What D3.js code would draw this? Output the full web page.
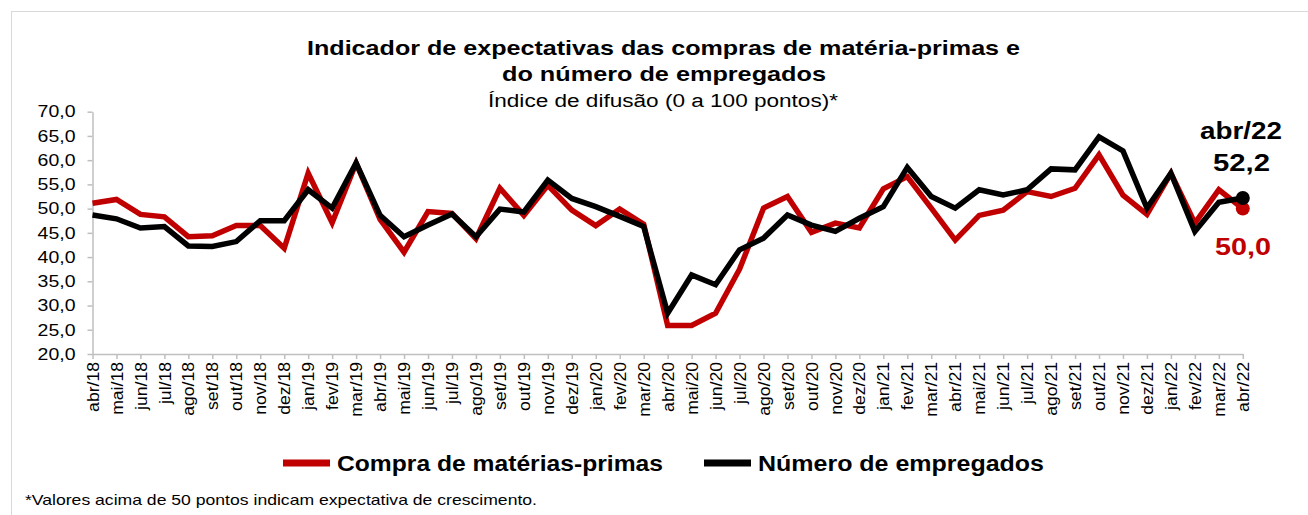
<!DOCTYPE html>
<html>
<head>
<meta charset="utf-8">
<script src="https://cdn.jsdelivr.net/npm/d3@7"></script>
<style>
  body { margin: 0; background: #fff; }
  svg { display: block; font-family: Arial, 'Liberation Sans', sans-serif; }
</style>
</head>
<body>
<svg id="chart" width="1308" height="515"></svg>
<script>
const months = [
  'abr/18','mai/18','jun/18','jul/18','ago/18','set/18','out/18','nov/18','dez/18',
  'jan/19','fev/19','mar/19','abr/19','mai/19','jun/19','jul/19','ago/19','set/19','out/19','nov/19','dez/19',
  'jan/20','fev/20','mar/20','abr/20','mai/20','jun/20','jul/20','ago/20','set/20','out/20','nov/20','dez/20',
  'jan/21','fev/21','mar/21','abr/21','mai/21','jun/21','jul/21','ago/21','set/21','out/21','nov/21','dez/21',
  'jan/22','fev/22','mar/22','abr/22'
]

const compras = [
  51.1, 51.9, 48.8, 48.3, 44.2, 44.4, 46.5, 46.5, 41.8,
  57.3, 47.1, 59.4, 47.8, 41.0, 49.4, 49.0, 43.8, 54.2, 48.6, 54.8, 49.7,
  46.5, 49.9, 46.8, 25.9, 25.9, 28.4, 37.5, 50.1, 52.5, 45.1, 47.0, 46.0,
  54.1, 56.6, 50.1, 43.5, 48.6, 49.7, 53.5, 52.5, 54.2, 61.1, 52.8, 48.8,
  57.3, 47.0, 53.9, 50.0
]

const empregados = [
  48.7, 47.9, 46.0, 46.3, 42.3, 42.2, 43.2, 47.5, 47.5,
  53.9, 50.1, 59.4, 48.6, 44.2, 46.6, 48.9, 44.2, 49.9, 49.3, 55.9, 52.1,
  50.4, 48.4, 46.3, 28.4, 36.3, 34.3, 41.5, 43.9, 48.7, 46.6, 45.3, 48.0,
  50.4, 58.5, 52.5, 50.1, 53.9, 52.8, 53.9, 58.2, 58.0, 64.8, 61.9, 50.1,
  57.3, 45.3, 51.3, 52.2
]

const yTicks = [20, 25, 30, 35, 40, 45, 50, 55, 60, 65, 70]

const RED = '#c00000'
const BLACK = '#000000'
const fmt = v => d3.format('.1f')(v).replace('.', ',')

// the original text is drawn a bit wider than Liberation Sans, stretch to fit
function stretch(sel, k) {
  sel.each(function () {
    const w = this.getComputedTextLength()
    d3.select(this)
      .attr('textLength', w * k)
      .attr('lengthAdjust', 'spacingAndGlyphs')
  })
}

const svg = d3.select('#chart')

// chart border (only top/left visible in the frame)
svg.append('rect')
  .attr('x', 11.5).attr('y', 11.5)
  .attr('width', 1400).attr('height', 600)
  .attr('fill', 'none')
  .attr('stroke', '#d9d9d9')

// ------------------
// Titles
// ------------------
svg.append('text')
  .attr('x', 663.5).attr('y', 55)
  .attr('text-anchor', 'middle')
  .attr('font-weight', 'bold').attr('font-size', 21)
  .attr('textLength', 713).attr('lengthAdjust', 'spacingAndGlyphs')
  .text('Indicador de expectativas das compras de matéria-primas e')

svg.append('text')
  .attr('x', 664).attr('y', 81)
  .attr('text-anchor', 'middle')
  .attr('font-weight', 'bold').attr('font-size', 21)
  .attr('textLength', 324).attr('lengthAdjust', 'spacingAndGlyphs')
  .text('do número de empregados')

svg.append('text')
  .attr('x', 663).attr('y', 107)
  .attr('text-anchor', 'middle')
  .attr('font-size', 18)
  .attr('textLength', 350).attr('lengthAdjust', 'spacingAndGlyphs')
  .text('Índice de difusão (0 a 100 pontos)*')

// ------------------
// Scales
// ------------------
const x = d3.scalePoint()
  .domain(months)
  .range([92.5, 1242.8])

const y = d3.scaleLinear()
  .domain([20, 70])
  .range([354, 111.7])

// ------------------
// Axes
// ------------------
const yAxis = svg.append('g')
  .attr('transform', 'translate(92.5,0)')
  .call(d3.axisLeft(y).tickValues(yTicks).tickFormat(fmt).tickSize(5).tickSizeOuter(0))
yAxis.select('.domain').attr('stroke', '#bfbfbf').attr('stroke-width', 1.5)
yAxis.selectAll('.tick line').attr('stroke', '#bfbfbf').attr('stroke-width', 1.5)
yAxis.selectAll('.tick text')
  .attr('font-size', 16.5).attr('fill', '#000')
  .attr('font-family', 'Arial, Liberation Sans, sans-serif')
  .attr('x', -17)
  .call(stretch, 1.18)

const xAxis = svg.append('g')
  .attr('transform', 'translate(0,354)')
  .call(d3.axisBottom(x).tickSize(5).tickSizeOuter(0))
xAxis.select('.domain').attr('stroke', '#bfbfbf').attr('stroke-width', 1.5)
xAxis.selectAll('.tick line').attr('stroke', '#bfbfbf').attr('stroke-width', 1.5)
xAxis.selectAll('.tick text')
  .attr('font-size', 16).attr('fill', '#000')
  .attr('font-family', 'Arial, Liberation Sans, sans-serif')
  .attr('transform', 'rotate(-90)')
  .attr('text-anchor', 'end')
  .attr('x', -8).attr('y', 0).attr('dy', '0.35em')
  .call(stretch, 1.1)

// ------------------
// Lines
// ------------------
const line = d3.line()
  .x((d, i) => x(months[i]))
  .y(d => y(d))

svg.append('path')
  .datum(compras)
  .attr('fill', 'none')
  .attr('stroke', RED)
  .attr('stroke-width', 5.5)
  .attr('stroke-linejoin', 'miter')
  .attr('d', line)

svg.append('path')
  .datum(empregados)
  .attr('fill', 'none')
  .attr('stroke', BLACK)
  .attr('stroke-width', 5.5)
  .attr('stroke-linejoin', 'miter')
  .attr('d', line)

// last-point markers and labels
const last = months.length - 1
svg.append('circle')
  .attr('cx', x(months[last])).attr('cy', y(compras[last]))
  .attr('r', 7).attr('fill', RED)
svg.append('circle')
  .attr('cx', x(months[last])).attr('cy', y(empregados[last]))
  .attr('r', 7).attr('fill', BLACK)

svg.append('text')
  .attr('x', 1241).attr('y', 139)
  .attr('text-anchor', 'middle')
  .attr('font-weight', 'bold').attr('font-size', 23)
  .attr('textLength', 82).attr('lengthAdjust', 'spacingAndGlyphs')
  .text(months[last])
svg.append('text')
  .attr('x', 1241.5).attr('y', 171)
  .attr('text-anchor', 'middle')
  .attr('font-weight', 'bold').attr('font-size', 23)
  .attr('textLength', 57).attr('lengthAdjust', 'spacingAndGlyphs')
  .text(fmt(empregados[last]))
svg.append('text')
  .attr('x', 1243).attr('y', y(compras[last]) + 46)
  .attr('text-anchor', 'middle')
  .attr('font-weight', 'bold').attr('font-size', 23)
  .attr('textLength', 56).attr('lengthAdjust', 'spacingAndGlyphs')
  .attr('fill', RED)
  .text(fmt(compras[last]))

// ------------------
// Legend
// ------------------
const legend = [
  { label: 'Compra de matérias-primas', color: RED, x: 283, w: 326 },
  { label: 'Número de empregados', color: BLACK, x: 704, w: 286 }
]
const lg = svg.append('g').selectAll('g')
  .data(legend).enter().append('g')
lg.append('line')
  .attr('x1', d => d.x).attr('x2', d => d.x + 47)
  .attr('y1', 463).attr('y2', 463)
  .attr('stroke', d => d.color).attr('stroke-width', 7)
lg.append('text')
  .attr('x', d => d.x + 54).attr('y', 471)
  .attr('font-weight', 'bold').attr('font-size', 22)
  .attr('textLength', d => d.w).attr('lengthAdjust', 'spacingAndGlyphs')
  .text(d => d.label)

// ------------------
// Footnote
// ------------------
svg.append('text')
  .attr('x', 25).attr('y', 505)
  .attr('font-size', 14.5)
  .attr('textLength', 512).attr('lengthAdjust', 'spacingAndGlyphs')
  .text('*Valores acima de 50 pontos indicam expectativa de crescimento.')
</script>
</body>
</html>
